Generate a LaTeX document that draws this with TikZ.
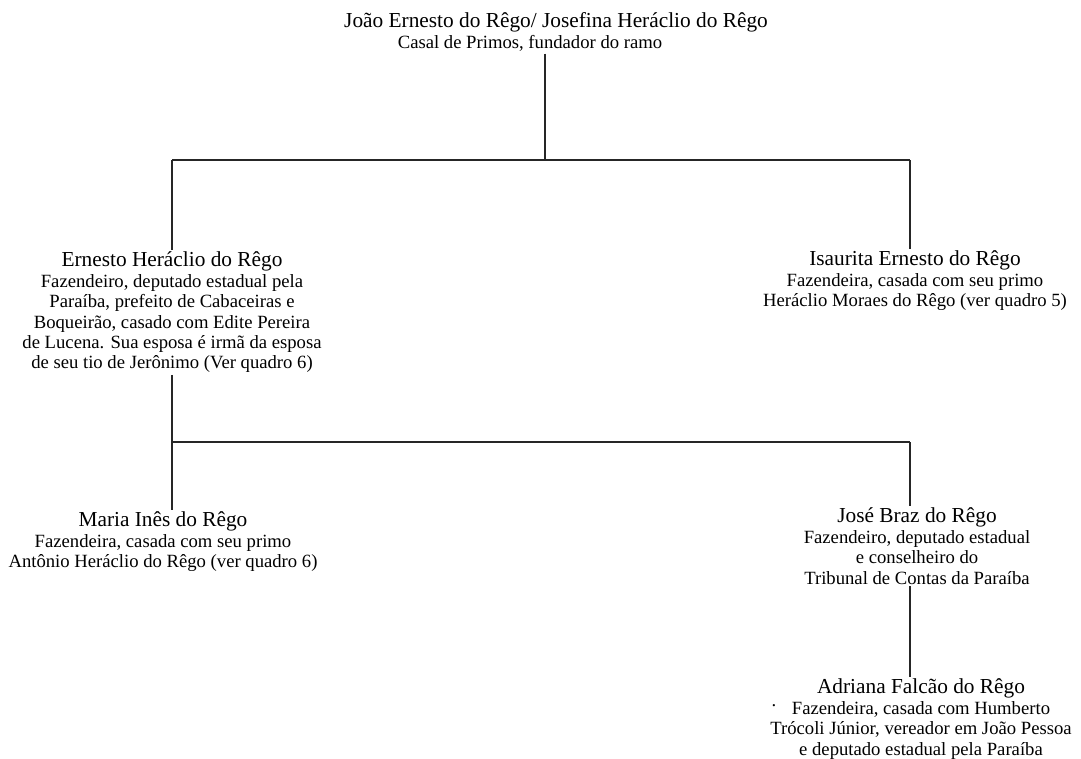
\documentclass[tikz,border=0pt]{standalone}
\usepackage{fontspec}
\setmainfont{Liberation Serif}
\newcommand{\pname}[1]{{\fontsize{16}{18}\selectfont #1}}
\begin{document}
\begin{tikzpicture}[x=0.75pt,y=-0.75pt,
  person/.style={align=center, inner sep=0pt, outer sep=1.5pt, anchor=north,
    font=\fontsize{14}{15.3}\selectfont, text=black},
  link/.style={draw=black!85, line width=0.95pt}]
\useasboundingbox (0,0) rectangle (1081,758);
\fill[white] (0,0) rectangle (1081,758);

\node[person] (title) at (545,10) {\pname{\hspace*{16.5pt}João Ernesto do Rêgo/ Josefina Heráclio do Rêgo}\\[1pt]
  Casal de Primos, fundador do ramo\hspace*{22.5pt}};

\node[person] (ernesto) at (172,250) {\pname{Ernesto Heráclio do Rêgo}\\
  Fazendeiro, deputado estadual pela\\
  Paraíba, prefeito de Cabaceiras e\\
  Boqueirão, casado com Edite Pereira\\
  de Lucena. Sua esposa é irmã da esposa\\
  de seu tio de Jerônimo (Ver quadro 6)};

\node[person] (isaurita) at (915,249) {\pname{Isaurita Ernesto do Rêgo}\\
  Fazendeira, casada com seu primo\\
  Heráclio Moraes do Rêgo (ver quadro 5)};

\node[person] (maria) at (163,510) {\pname{Maria Inês do Rêgo}\\
  Fazendeira, casada com seu primo\\
  Antônio Heráclio do Rêgo (ver quadro 6)};

\node[person] (jose) at (917,506) {\pname{José Braz do Rêgo}\\
  Fazendeiro, deputado estadual\\
  e conselheiro do\\
  Tribunal de Contas da Paraíba};

\node[person] (adriana) at (921,677) {\pname{Adriana Falcão do Rêgo}\\
  Fazendeira, casada com Humberto\\
  Trócoli Júnior, vereador em João Pessoa\\
  e deputado estadual pela Paraíba};

\node[inner sep=0pt, font=\fontsize{14}{15.3}\selectfont] (dot) at (774,706) {.};

\coordinate (j1) at (545,160);
\coordinate (b1L) at (172,160);
\coordinate (b1R) at (910,160);
\coordinate (b2L) at (172,442);
\coordinate (b2R) at (910,442);

\draw[link] (title.south -| j1) -- (j1);
\draw[link] (b1L) -- (b1R);
\draw[link] (b1L) -- (b1L |- ernesto.north);
\draw[link] (b1R) -- (b1R |- isaurita.north);
\draw[link] (b2L |- ernesto.south) -- (b2L);
\draw[link] (b2L) -- (b2R);
\draw[link] (b2L) -- (b2L |- maria.north);
\draw[link] (b2R) -- (b2R |- jose.north);
\draw[link] (b2R |- jose.south) -- (b2R |- adriana.north);
\end{tikzpicture}
\end{document}
